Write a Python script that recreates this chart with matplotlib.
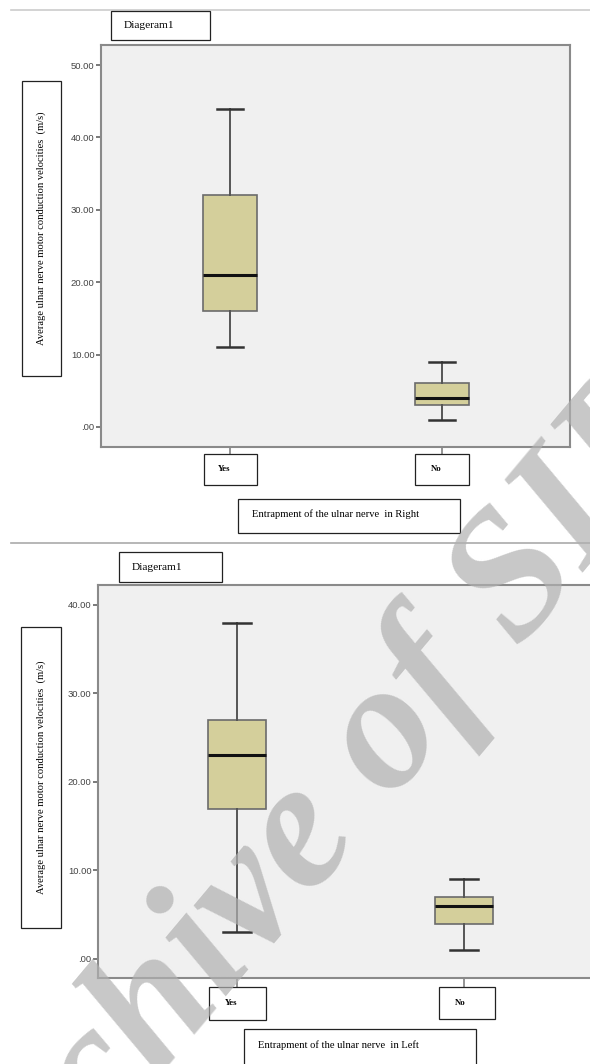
import matplotlib
matplotlib.use('Agg')
import matplotlib.pyplot as plt
from matplotlib.patches import Rectangle
from matplotlib.lines import Line2D

W, H = 590, 1064

categorias = ['Yes', 'No']

# panel 1: right side
direito_med = [21, 4]
direito_q1 = [16, 3]
direito_q3 = [32, 6]
direito_min = [11, 1]
direito_max = [44, 9]
direito_ticks = [0, 10, 20, 30, 40, 50]

# panel 2: left side
esquerdo_med = [23, 6]
esquerdo_q1 = [17, 4]
esquerdo_q3 = [27, 7]
esquerdo_min = [3, 1]
esquerdo_max = [38, 9]
esquerdo_ticks = [0, 10, 20, 30, 40]

titulo = 'Diageram1'
rotulo_y = 'Average ulnar nerve motor conduction velocities  (m/s)'
rotulo_x_direito = 'Entrapment of the ulnar nerve  in Right'
rotulo_x_esquerdo = 'Entrapment of the ulnar nerve  in Left'

SERIF = ['Liberation Serif', 'DejaVu Serif']
SANS = ['Liberation Sans', 'DejaVu Sans']


def fx(px):
    return px / W


def fy(py):
    return 1 - py / H


def caixa(fig, x0, y0, x1, y1):
    fig.add_artist(Rectangle((fx(x0), fy(y1)), (x1 - x0) / W, (y1 - y0) / H,
                             transform=fig.transFigure, facecolor='white',
                             edgecolor='#222222', lw=0.9, zorder=5))


def linha(fig, x0, x1, y, cor):
    fig.add_artist(Line2D([fx(x0), fx(x1)], [fy(y), fy(y)], transform=fig.transFigure,
                          color=cor, lw=1.2))


def formatar(v):
    return '.00' if v == 0 else '%.2f' % v


def montarStats(med, q1, q3, mn, mx):
    stats = []
    for i in range(len(categorias)):
        stats.append({'med': med[i], 'q1': q1[i], 'q3': q3[i],
                      'whislo': mn[i], 'whishi': mx[i], 'fliers': [],
                      'label': categorias[i]})
    return stats


def plotarPainel(fig, rect, xlim, ylim, stats, ticks, tick_len):
    left, top, right, bottom = rect
    ax = fig.add_axes([fx(left), fy(bottom), (right - left) / W, (bottom - top) / H])
    ax.set_facecolor('#f0f0f0')
    ax.bxp(stats, positions=[1, 2], widths=0.255, capwidths=0.125,
           patch_artist=True, showfliers=False,
           boxprops=dict(facecolor='#d4cf9b', edgecolor='#6b6b6b', lw=1.2),
           whiskerprops=dict(color='#555555', lw=1.4),
           capprops=dict(color='#333333', lw=1.8),
           medianprops=dict(color='#111111', lw=2.2))
    ax.set_xlim(*xlim)
    ax.set_ylim(*ylim)
    ax.set_yticks(ticks)
    ax.set_yticklabels([formatar(t) for t in ticks], family=SANS)
    ax.set_xticks([1, 2])
    ax.set_xticklabels(['', ''])
    ax.tick_params(axis='y', length=3.6, width=1.1, color='#555555',
                   labelsize=6.8, labelcolor='#444444', pad=1)
    ax.tick_params(axis='x', length=tick_len, width=1.1, color='#777777')
    for s in ax.spines.values():
        s.set_color('#8a8a8a')
        s.set_linewidth(1.5)
    return ax


fig = plt.figure(figsize=(W / 100, H / 100), dpi=100)

linha(fig, 11, 590, 9.5, '#cccccc')
linha(fig, 11, 590, 543, '#aaaaaa')

# top panel
plotarPainel(fig, (101, 45, 570, 447), (0.3915, 2.604), (-2.78, 52.78),
             montarStats(direito_med, direito_q1, direito_q3, direito_min, direito_max),
             direito_ticks, 5)
caixa(fig, 111, 11, 210, 40)
fig.text(fx(124), fy(25), titulo, family=SERIF, fontsize=8.2, va='center', ha='left', zorder=6)
caixa(fig, 22, 81, 61, 376)
fig.text(fx(41.5), fy(228), rotulo_y, family=SERIF, fontsize=7.6, rotation=90,
         va='center', ha='center', zorder=6)
caixa(fig, 204, 454, 257, 485)
fig.text(fx(224), fy(469), categorias[0], family=SERIF, fontsize=6.3, weight='bold',
         va='center', ha='center', zorder=6)
caixa(fig, 415, 454, 469, 485)
fig.text(fx(436), fy(469), categorias[1], family=SERIF, fontsize=6.3, weight='bold',
         va='center', ha='center', zorder=6)
caixa(fig, 238, 499, 460, 533)
fig.text(fx(252), fy(514), rotulo_x_direito, family=SERIF, fontsize=7.6,
         va='center', ha='left', zorder=6)

# bottom panel
plotarPainel(fig, (98, 585, 592, 978), (0.3877, 2.564), (-2.15, 42.26),
             montarStats(esquerdo_med, esquerdo_q1, esquerdo_q3, esquerdo_min, esquerdo_max),
             esquerdo_ticks, 6.5)
caixa(fig, 119, 552, 222, 582)
fig.text(fx(132), fy(567), titulo, family=SERIF, fontsize=8.2, va='center', ha='left', zorder=6)
caixa(fig, 21, 627, 61, 928)
fig.text(fx(41), fy(777), rotulo_y, family=SERIF, fontsize=7.6, rotation=90,
         va='center', ha='center', zorder=6)
caixa(fig, 209, 987, 266, 1020)
fig.text(fx(231), fy(1003), categorias[0], family=SERIF, fontsize=6.3, weight='bold',
         va='center', ha='center', zorder=6)
caixa(fig, 439, 987, 495, 1019)
fig.text(fx(460), fy(1003), categorias[1], family=SERIF, fontsize=6.3, weight='bold',
         va='center', ha='center', zorder=6)
caixa(fig, 244, 1029, 476, 1075)
fig.text(fx(258), fy(1045), rotulo_x_esquerdo, family=SERIF, fontsize=7.6,
         va='center', ha='left', zorder=6)

# watermark
fig.text(fx(318), fy(830), 'Archive of SID', family=SERIF, fontsize=132, style='italic',
         weight='bold', rotation=50, color='#b0b0b0', alpha=0.7,
         va='center', ha='center', zorder=10)

fig.savefig('out.png', dpi=100)
